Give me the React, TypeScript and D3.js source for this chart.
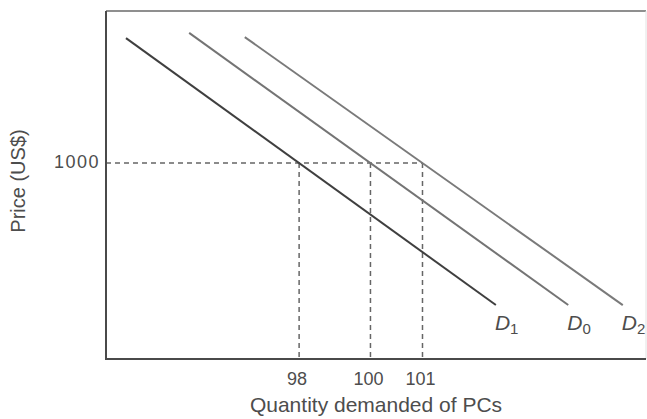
import { useEffect, useRef } from "react"
import * as d3 from "d3"

// demand curves in an abstract quantity/price index space (0-100)
const curveNames = ["D1", "D0", "D2"]
const curveStartQ = [3.7, 15.4, 25.7]
const curveStartP = [92.2, 93.7, 92.5]
const curveEndQ = [72.2, 85.6, 95.7]
const curveEndP = [15.5, 15.5, 15.5]
const curveColors = ["#3f3f3f", "#747474", "#7a7a7a"]

const priceLevel = 56.3
const priceLabel = "1000"
const quantityLabels = ["98", "100", "101"]

const W = 647
const H = 419
const margin = { top: 11, right: 1, bottom: 60, left: 106 }

export default function App() {
  const svgRef = useRef<SVGSVGElement>(null)

  useEffect(() => {
    if (!svgRef.current) return
    const svg = d3.select(svgRef.current)
    svg.selectAll("*").remove()

    const x = d3.scaleLinear().domain([0, 100]).range([margin.left, W - margin.right])
    const y = d3.scaleLinear().domain([0, 100]).range([H - margin.bottom, margin.top])

    const font = "'Liberation Sans', Arial, Helvetica, sans-serif"

    // frame: grey top border, very faint right border
    svg
      .append("line")
      .attr("x1", x(0))
      .attr("x2", x(100))
      .attr("y1", y(100))
      .attr("y2", y(100))
      .attr("stroke", "#8f8f8f")
      .attr("stroke-width", 1.8)
    svg
      .append("line")
      .attr("x1", x(100))
      .attr("x2", x(100))
      .attr("y1", y(100))
      .attr("y2", y(0))
      .attr("stroke", "#e2e2e2")
      .attr("stroke-width", 1)

    const curves = curveNames.map((name, i) => ({
      name,
      pts: [
        [curveStartQ[i], curveStartP[i]],
        [curveEndQ[i], curveEndP[i]],
      ] as [number, number][],
      color: curveColors[i],
    }))

    // quantity where each curve crosses the marked price
    const crossQ = curves.map((c) => {
      const [[q0, p0], [q1, p1]] = c.pts
      const t = (p0 - priceLevel) / (p0 - p1)
      return q0 + t * (q1 - q0)
    })

    const dash = "5,4"
    // horizontal dashed line at price 1000
    svg
      .append("line")
      .attr("x1", x(0))
      .attr("x2", x(d3.max(crossQ) as number))
      .attr("y1", y(priceLevel))
      .attr("y2", y(priceLevel))
      .attr("stroke", "#666")
      .attr("stroke-width", 1.5)
      .attr("stroke-dasharray", dash)

    // vertical dashed drops
    svg
      .selectAll("line.drop")
      .data(crossQ)
      .enter()
      .append("line")
      .attr("class", "drop")
      .attr("x1", (d) => x(d))
      .attr("x2", (d) => x(d))
      .attr("y1", y(priceLevel))
      .attr("y2", y(0))
      .attr("stroke", "#666")
      .attr("stroke-width", 1.5)
      .attr("stroke-dasharray", dash)

    const line = d3
      .line<[number, number]>()
      .x((d) => x(d[0]))
      .y((d) => y(d[1]))

    svg
      .selectAll("path.curve")
      .data(curves)
      .enter()
      .append("path")
      .attr("class", "curve")
      .attr("d", (d) => line(d.pts))
      .attr("fill", "none")
      .attr("stroke", (d) => d.color)
      .attr("stroke-width", 2)

    // curve labels D with subscript
    const lab = svg
      .selectAll("text.dlab")
      .data(curves)
      .enter()
      .append("text")
      .attr("class", "dlab")
      .attr("x", (d) => x(d.pts[1][0]) - 1)
      .attr("y", (d) => y(d.pts[1][1]) + 25)
      .attr("font-family", font)
      .attr("fill", "#4d4d4d")
    lab.append("tspan").attr("font-style", "italic").attr("font-size", 21).text("D")
    lab
      .append("tspan")
      .attr("font-size", 15)
      .attr("dy", 4)
      .text((d) => d.name.slice(1))

    // axes (left and bottom, darker)
    svg
      .append("path")
      .attr("d", `M${x(0)},${y(100)}V${y(0)}H${x(100)}`)
      .attr("fill", "none")
      .attr("stroke", "#4a4a4a")
      .attr("stroke-width", 2)

    // price tick label
    svg
      .append("text")
      .attr("x", x(0) - 6)
      .attr("y", y(priceLevel) + 5)
      .attr("text-anchor", "end")
      .attr("font-family", font)
      .attr("font-size", 18)
      .attr("letter-spacing", 1.5)
      .attr("fill", "#4d4d4d")
      .text(priceLabel)

    // quantity tick labels
    svg
      .selectAll("text.qlab")
      .data(crossQ)
      .enter()
      .append("text")
      .attr("class", "qlab")
      .attr("x", (d) => x(d) - 2)
      .attr("y", y(0) + 26)
      .attr("text-anchor", "middle")
      .attr("font-family", font)
      .attr("font-size", 18)
      .attr("fill", "#4d4d4d")
      .text((d, i) => quantityLabels[i])

    // axis titles
    svg
      .append("text")
      .attr("x", 376)
      .attr("y", H - 7)
      .attr("text-anchor", "middle")
      .attr("font-family", font)
      .attr("font-size", 21)
      .attr("fill", "#4d4d4d")
      .text("Quantity demanded of PCs")

    svg
      .append("text")
      .attr("transform", `translate(25, 181) rotate(-90)`)
      .attr("text-anchor", "middle")
      .attr("font-family", font)
      .attr("font-size", 20)
      .attr("fill", "#4d4d4d")
      .text("Price (US$)")
  }, [])

  return (
    <svg
      ref={svgRef}
      width={W}
      height={H}
      style={{ position: "absolute", left: 0, top: 0, background: "#fff" }}
    ></svg>
  )
}
